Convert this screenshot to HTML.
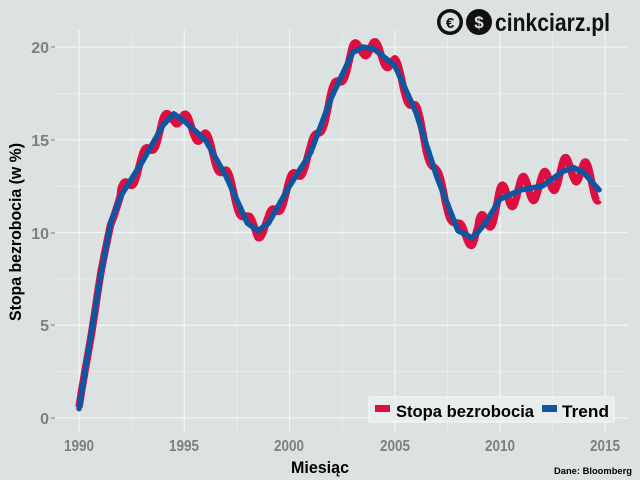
<!DOCTYPE html>
<html><head><meta charset="utf-8"><style>
html,body{margin:0;padding:0;background:#dce2e1;}
svg{display:block;font-family:"Liberation Sans",sans-serif;}
</style></head><body>
<svg id="s" width="640" height="480" viewBox="0 0 640 480">
<rect width="640" height="480" fill="#dce2e1"/>
<g id="grid" stroke="#f4f6f6"></g>
<g id="data"></g>
<g font-weight="bold" fill="#7f7f7f" font-size="16">
<text x="49" y="424" text-anchor="end">0</text>
<text x="49" y="331" text-anchor="end">5</text>
<text x="49" y="239" text-anchor="end">10</text>
<text x="49" y="146" text-anchor="end">15</text>
<text x="49" y="53" text-anchor="end">20</text>
<text x="79" y="451" text-anchor="middle" textLength="30" lengthAdjust="spacingAndGlyphs">1990</text>
<text x="184" y="451" text-anchor="middle" textLength="30" lengthAdjust="spacingAndGlyphs">1995</text>
<text x="289" y="451" text-anchor="middle" textLength="30" lengthAdjust="spacingAndGlyphs">2000</text>
<text x="395" y="451" text-anchor="middle" textLength="30" lengthAdjust="spacingAndGlyphs">2005</text>
<text x="500" y="451" text-anchor="middle" textLength="30" lengthAdjust="spacingAndGlyphs">2010</text>
<text x="605" y="451" text-anchor="middle" textLength="30" lengthAdjust="spacingAndGlyphs">2015</text>
</g>
<g stroke="#7f7f7f"><line x1="51" x2="55" y1="418" y2="418"/><line x1="51" x2="55" y1="325" y2="325"/><line x1="51" x2="55" y1="233" y2="233"/><line x1="51" x2="55" y1="140" y2="140"/><line x1="51" x2="55" y1="47" y2="47"/></g>
<text x="320" y="473" text-anchor="middle" font-weight="bold" font-size="17" textLength="58" lengthAdjust="spacingAndGlyphs">Miesiąc</text>
<text transform="translate(21,232) rotate(-90)" text-anchor="middle" font-weight="bold" font-size="17" textLength="178" lengthAdjust="spacingAndGlyphs">Stopa bezrobocia (w %)</text>
<text x="632" y="474" text-anchor="end" font-weight="bold" font-size="9" textLength="78" lengthAdjust="spacingAndGlyphs">Dane: Bloomberg</text>
<rect x="369" y="397" width="245" height="25" fill="#e8ecec" stroke="#fafafa"/>
<rect x="375" y="405" width="15" height="7" fill="#dc0f40"/>
<text x="396" y="417" font-weight="bold" font-size="17" textLength="138" lengthAdjust="spacingAndGlyphs">Stopa bezrobocia</text>
<rect x="542" y="405" width="15" height="7" fill="#0f55a0"/>
<text x="562" y="417" font-weight="bold" font-size="17" textLength="47" lengthAdjust="spacingAndGlyphs">Trend</text>
<g>
<circle cx="450" cy="22" r="13" fill="#111"/><circle cx="450" cy="22" r="9.5" fill="#dce2e1"/>
<text x="450" y="28" text-anchor="middle" font-weight="bold" font-size="15" fill="#111">€</text>
<circle cx="479" cy="22" r="13" fill="#111"/>
<text x="479" y="28" text-anchor="middle" font-weight="bold" font-size="17" fill="#dce2e1">$</text>
<text x="495" y="31" font-weight="bold" font-size="25" fill="#111" textLength="115" lengthAdjust="spacingAndGlyphs">cinkciarz.pl</text>
</g>
</svg>
<script>
function X(y){return 79+(y-1990)*21.05}function Y(v){return 418-v*18.55}
var g=document.getElementById('grid'),h='';
[0,5,10,15,20].forEach(function(v){h+='<line x1="55" x2="628" y1="'+Y(v)+'" y2="'+Y(v)+'" stroke-width="1.2"/>';});
[2.5,7.5,12.5,17.5].forEach(function(v){h+='<line x1="55" x2="628" y1="'+Y(v)+'" y2="'+Y(v)+'" stroke-width="0.5"/>';});
for(var y=1990;y<=2015;y+=2.5){h+='<line y1="30" y2="432" x1="'+X(y)+'" x2="'+X(y)+'" stroke-width="'+(y%5==0?1.2:0.5)+'"/>';}
g.innerHTML=h;
var T=[[1990,0.5],[1990.5,4],[1991,7.5],[1991.5,10.5],[1992,12],[1993,13.8],[1994,15.8],[1994.5,16.4],[1995,16],[1996,15],[1997,13],[1998,10.5],[1998.5,10.1],[1999,10.5],[2000,12.5],[2001,14.3],[2002,17.3],[2003,19.7],[2003.5,20],[2004,19.9],[2005,19],[2006,16.5],[2007,13],[2008,10.1],[2008.7,9.7],[2009.3,10.5],[2010,11.8],[2011,12.3],[2012,12.5],[2013,13.3],[2013.5,13.5],[2014,13.2],[2014.7,12.3]];
function tr(t){for(var i=0;i<T.length-1;i++){if(t<=T[i+1][0]){var f=(t-T[i][0])/(T[i+1][0]-T[i][0]);return T[i][1]+f*(T[i+1][1]-T[i][1]);}}return T[T.length-1][1];}
var r='',b='';
for(var t=1990;t<=2014.71;t+=1/24){
 var amp=t<1992?0.1:(t>2009?0.7:0.45);
 var rv=tr(t)+amp*Math.cos(2*Math.PI*(t-0.1));
 r+=(r?'L':'M')+X(t).toFixed(1)+' '+Y(rv).toFixed(1);
 b+=(b?'L':'M')+X(t).toFixed(1)+' '+Y(tr(t)).toFixed(1);
}
document.getElementById('data').innerHTML='<path d="'+r+'" fill="none" stroke="#dc0f40" stroke-width="7.5" stroke-linejoin="round"/><path d="'+b+'" fill="none" stroke="#0f55a0" stroke-width="5.5" stroke-linejoin="round" stroke-linecap="round"/>';
</script>
</body></html>
